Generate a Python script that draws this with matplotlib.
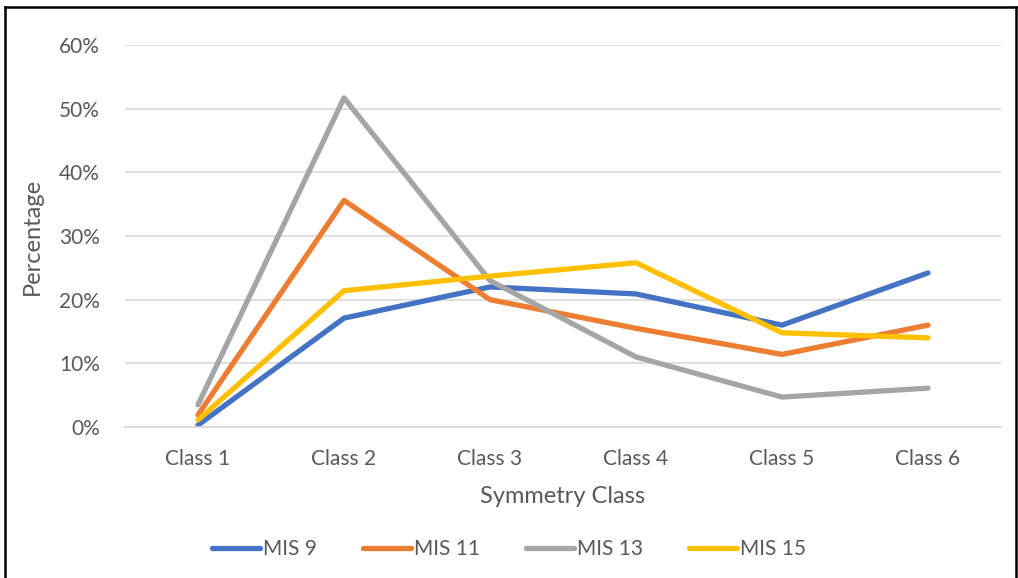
import matplotlib
matplotlib.use("Agg")
import matplotlib.pyplot as plt
from matplotlib.lines import Line2D
from matplotlib.ticker import PercentFormatter

categories = ["Class 1", "Class 2", "Class 3", "Class 4", "Class 5", "Class 6"]
mis9 = [0.3, 17.1, 22.0, 20.9, 16.0, 24.2]
mis11 = [1.9, 35.6, 20.0, 15.5, 11.4, 16.0]
mis13 = [3.5, 51.7, 23.0, 11.0, 4.7, 6.1]
mis15 = [1.1, 21.4, 23.7, 25.8, 14.8, 14.0]
series_names = ["MIS 9", "MIS 11", "MIS 13", "MIS 15"]
colors = ["#4472C4", "#ED7D31", "#A5A5A5", "#FFC000"]

plt.rcParams['font.family'] = ['Lato', 'DejaVu Sans']
txt = "#595959"

fig = plt.figure(figsize=(10.18, 5.78), dpi=100)
ax = fig.add_axes([125/1018, 1-427/578, 876/1018, (427-45)/578])

x = list(range(len(categories)))
for name, vals, c in zip(series_names, [mis9, mis11, mis13, mis15], colors):
    ax.plot(x, vals, color=c, lw=3.8, label=name, solid_capstyle='round', solid_joinstyle='round')

ax.set_xlim(-0.5, 5.5)
ax.set_ylim(0, 60)
ax.set_yticks(range(0, 61, 10))
ax.yaxis.set_major_formatter(PercentFormatter(decimals=0))
ax.set_xticks(x)
ax.set_xticklabels(categories)
ax.grid(axis='y', color='#D9D9D9', lw=1.2)
ax.set_axisbelow(True)
for s in ['top', 'right', 'left']:
    ax.spines[s].set_visible(False)
ax.spines['bottom'].set_color('#D9D9D9')
ax.spines['bottom'].set_linewidth(1.2)
ax.tick_params(axis='both', length=0, labelsize=15, colors=txt)
ax.tick_params(axis='x', pad=16)
ax.tick_params(axis='y', pad=18)
ax.set_xlabel("Symmetry Class", fontsize=17, color=txt, labelpad=12)
ax.set_ylabel("Percentage", fontsize=17, color=txt, labelpad=12)

leg = fig.legend(loc='center', bbox_to_anchor=(0.5, 1-549/578), ncol=4, frameon=False,
                 fontsize=15, handlelength=2.3, columnspacing=2.2, handletextpad=0.15)
for t in leg.get_texts():
    t.set_color(txt)

# figure border (left, top, right)
fig.add_artist(Line2D([4.5/1018, 4.5/1018], [0, 1-7/578], transform=fig.transFigure, color='black', lw=1.8))
fig.add_artist(Line2D([4.5/1018, 1016/1018], [1-7/578, 1-7/578], transform=fig.transFigure, color='black', lw=1.8))
fig.add_artist(Line2D([1016/1018, 1016/1018], [0, 1-7/578], transform=fig.transFigure, color='black', lw=1.8))

fig.savefig("out.png", dpi=100)
